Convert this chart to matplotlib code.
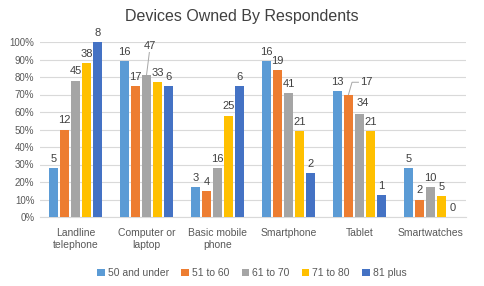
import matplotlib.pyplot as plt
import numpy as np

categories = ["Landline\ntelephone", "Computer or\nlaptop", "Basic mobile\nphone",
              "Smartphone", "Tablet", "Smartwatches"]
series_names = ["50 and under", "51 to 60", "61 to 70", "71 to 80", "81 plus"]
colors = ["#5B9BD5", "#ED7D31", "#A5A5A5", "#FFC000", "#4472C4"]

# percent of respondents (bar heights)
pct_50_under = [28, 89, 17, 89, 72, 28]
pct_51_60 = [50, 75, 15, 84, 70, 10]
pct_61_70 = [78, 81, 28, 71, 59, 17]
pct_71_80 = [88, 77, 58, 49, 49, 12]
pct_81_plus = [100, 75, 75, 25, 12.5, 0]

# counts shown as data labels
cnt_50_under = [5, 16, 3, 16, 13, 5]
cnt_51_60 = [12, 17, 4, 19, 17, 2]
cnt_61_70 = [45, 47, 16, 41, 34, 10]
cnt_71_80 = [38, 33, 25, 21, 21, 5]
cnt_81_plus = [8, 6, 6, 2, 1, 0]

pcts = [pct_50_under, pct_51_60, pct_61_70, pct_71_80, pct_81_plus]
cnts = [cnt_50_under, cnt_51_60, cnt_61_70, cnt_71_80, cnt_81_plus]

plt.rcParams['font.family'] = ['Liberation Sans', 'DejaVu Sans']

fig = plt.figure(figsize=(4.84, 2.86), dpi=100)
ax = fig.add_axes([40 / 484, 1 - 217 / 286, 426 / 484, 175 / 286])

x = np.arange(len(categories))
pitch = 0.155
width = 0.127
for i, (vals, labs) in enumerate(zip(pcts, cnts)):
    xs = x + (i - 2) * pitch
    ax.bar(xs, vals, width=width, color=colors[i], label=series_names[i], zorder=3)
    for j, (xx, v, c) in enumerate(zip(xs, vals, labs)):
        if i == 2 and j == 1:
            # label lifted with a leader line
            ax.plot([xx, xx + 0.04], [v, v + 13], color="#A6A6A6", lw=0.7, zorder=4)
            ax.text(xx + 0.05, v + 14, str(c), ha="center", va="bottom",
                    fontsize=8, color="#404040")
        elif i == 1 and j == 4:
            ax.plot([xx, xx + 0.05, xx + 0.14], [v, v + 7, v + 7],
                    color="#A6A6A6", lw=0.7, zorder=4)
            ax.text(xx + 0.17, v + 7, str(c), ha="left", va="center",
                    fontsize=8, color="#404040")
        elif i == 2 and j == 4:
            ax.text(xx + 0.05, v + 3, str(c), ha="center", va="bottom",
                    fontsize=8, color="#404040")
        else:
            ax.annotate(str(c), (xx, v), xytext=(0, 3), textcoords="offset points",
                        ha="center", va="bottom", fontsize=8, color="#404040")

ax.set_xlim(-0.5, len(categories) - 0.5)
ax.set_ylim(0, 100)
ax.set_yticks(np.arange(0, 101, 10))
ax.set_yticklabels([f"{v}%" for v in range(0, 101, 10)], fontsize=7, color="#595959")
ax.set_xticks(x)
ax.set_xticklabels(categories, fontsize=7.5, color="#595959")
ax.tick_params(axis="y", length=0, pad=4)
ax.tick_params(axis="x", length=0, pad=8)
ax.grid(axis="y", color="#D9D9D9", lw=0.8, zorder=0)
for s in ["top", "right", "left"]:
    ax.spines[s].set_visible(False)
ax.spines["bottom"].set_color("#D9D9D9")

fig.text(0.5, 1 - 17 / 286, "Devices Owned By Respondents", ha="center", va="center",
         fontsize=11.5, color="#404040")
fig.legend(loc="center", bbox_to_anchor=(252 / 484, 1 - 273 / 286), ncol=5,
           fontsize=7.5, frameon=False, handlelength=0.7, handleheight=0.7,
           handletextpad=0.3, columnspacing=1.2, labelcolor="#595959")

fig.savefig("out.png", dpi=100)
